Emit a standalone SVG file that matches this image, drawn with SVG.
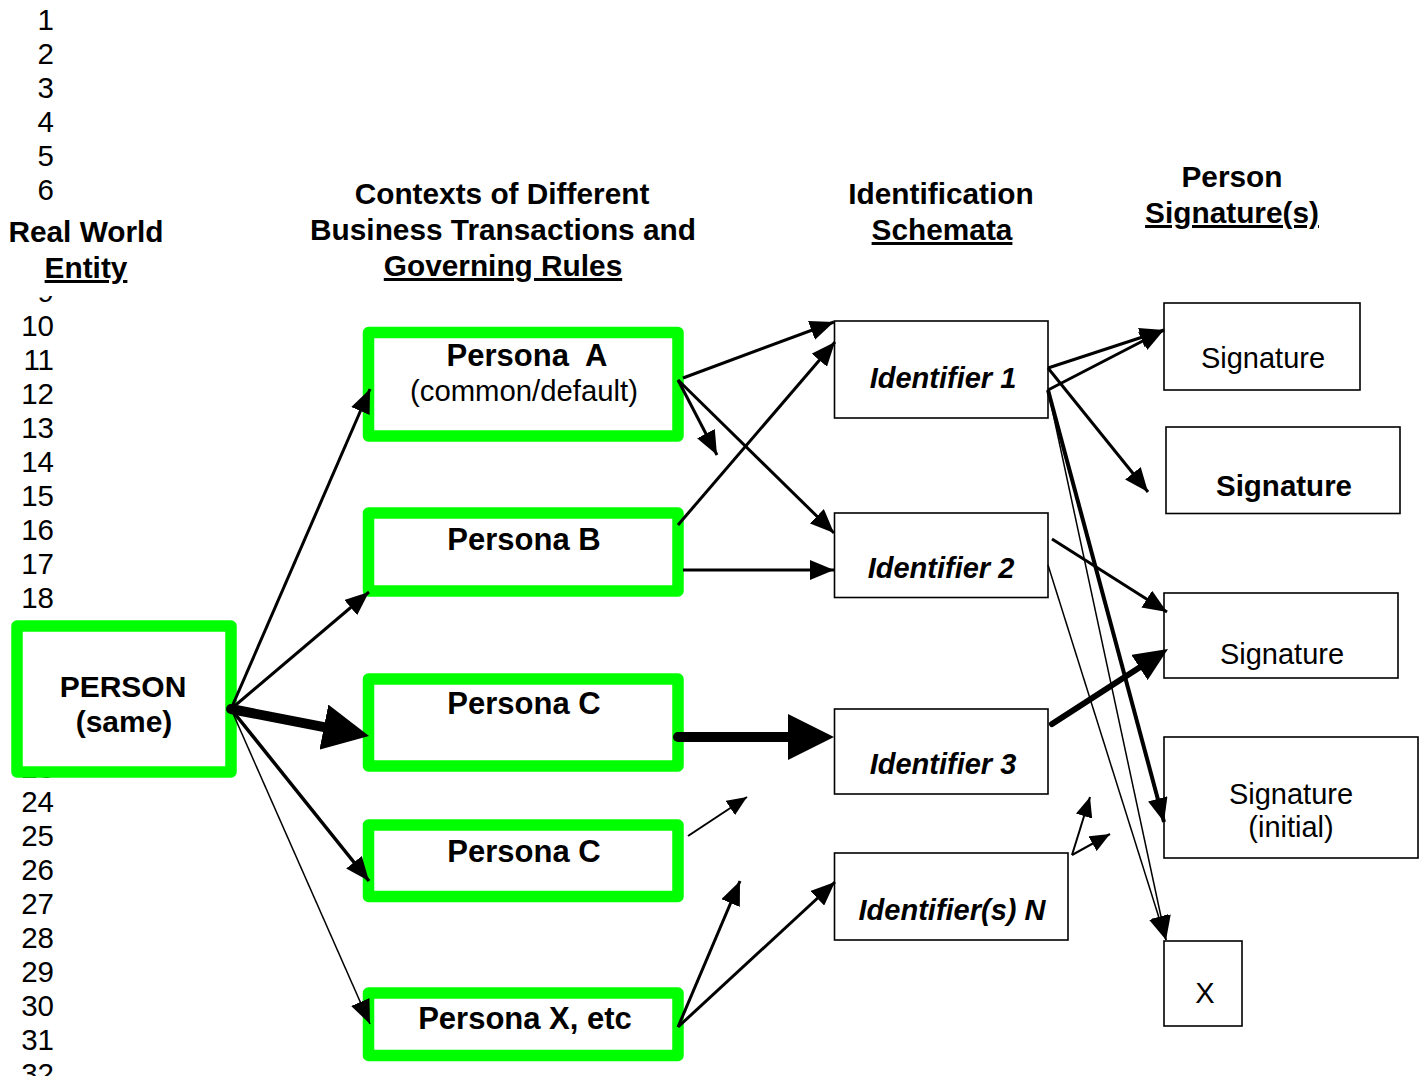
<svg xmlns="http://www.w3.org/2000/svg" width="1426" height="1076" viewBox="0 0 1426 1076">
  <style>
    text { font-family: "Liberation Sans", Arial, sans-serif; fill: #000; }
    .num { font-size: 29.5px; text-anchor: end; }
    .hdr { font-size: 29.8px; font-weight: bold; text-anchor: middle; }
    .u { text-decoration: underline; }
    .lbl { font-size: 29px; text-anchor: middle; }
    .pn { font-size: 31px; }
    .b { font-weight: bold; }
    .bi { font-weight: bold; font-style: italic; }
    .green { fill: #fff; stroke: #00ff00; stroke-width: 11.5; stroke-linejoin: round; }
    .box { fill: #fff; stroke: #000; stroke-width: 1.6; }
    .c { fill: none; stroke: #000; }
  </style>
  <defs>
    <marker id="ah" viewBox="0 0 24 20" markerUnits="userSpaceOnUse" markerWidth="24" markerHeight="20" refX="24" refY="10" orient="auto">
      <path d="M0,0 L24,10 L0,20 z" fill="#000"/>
    </marker>
    <marker id="ah-s" viewBox="0 0 20 17" markerUnits="userSpaceOnUse" markerWidth="20" markerHeight="17" refX="20" refY="8.5" orient="auto">
      <path d="M0,0 L20,8.5 L0,17 z" fill="#000"/>
    </marker>
    <marker id="ah-mid" viewBox="0 0 34 30" markerUnits="userSpaceOnUse" markerWidth="34" markerHeight="30" refX="18" refY="15" orient="auto">
      <path d="M0,0 L34,15 L0,30 z" fill="#000"/>
    </marker>
    <marker id="ah-big" viewBox="0 0 46 46" markerUnits="userSpaceOnUse" markerWidth="46" markerHeight="46" refX="16" refY="23" orient="auto">
      <path d="M0,0 L46,23 L0,46 z" fill="#000"/>
    </marker>
  </defs>
  <rect width="1426" height="1076" fill="#fff"/>

  <!-- line numbering down the left margin -->
  <g id="line-numbers">
    <text class="num" x="54" y="30">1</text>
    <text class="num" x="54" y="64">2</text>
    <text class="num" x="54" y="98">3</text>
    <text class="num" x="54" y="132">4</text>
    <text class="num" x="54" y="166">5</text>
    <text class="num" x="54" y="200">6</text>
    <text class="num" x="54" y="302">9</text>
    <text class="num" x="54" y="336">10</text>
    <text class="num" x="54" y="370">11</text>
    <text class="num" x="54" y="404">12</text>
    <text class="num" x="54" y="438">13</text>
    <text class="num" x="54" y="472">14</text>
    <text class="num" x="54" y="506">15</text>
    <text class="num" x="54" y="540">16</text>
    <text class="num" x="54" y="574">17</text>
    <text class="num" x="54" y="608">18</text>
    <text class="num" x="54" y="642">19</text>
    <text class="num" x="54" y="778">23</text>
    <text class="num" x="54" y="812">24</text>
    <text class="num" x="54" y="846">25</text>
    <text class="num" x="54" y="880">26</text>
    <text class="num" x="54" y="914">27</text>
    <text class="num" x="54" y="948">28</text>
    <text class="num" x="54" y="982">29</text>
    <text class="num" x="54" y="1016">30</text>
    <text class="num" x="54" y="1050">31</text>
    <text class="num" x="54" y="1084">32</text>
  </g>

  <!-- column headings -->
  <g id="headings">
    <rect x="0" y="206" width="172" height="90" fill="#fff"/>
    <text class="hdr" x="86" y="242">Real World</text>
    <text class="hdr u" x="86" y="278">Entity</text>
    <text class="hdr" x="502" y="204">Contexts of Different</text>
    <text class="hdr" x="503" y="240">Business Transactions and</text>
    <text class="hdr u" x="503" y="276">Governing Rules</text>
    <text class="hdr" x="941" y="204">Identification</text>
    <text class="hdr u" x="942" y="240">Schemata</text>
    <text class="hdr" x="1232" y="187">Person</text>
    <text class="hdr u" x="1232" y="223">Signature(s)</text>
  </g>

  <!-- real world entity -->
  <g id="person">
    <rect class="green" x="17" y="626" width="214" height="146"/>
    <text class="lbl b" x="123" y="697" style="font-size:30px">PERSON</text>
    <text class="lbl b" x="124" y="732" style="font-size:30px">(same)</text>
  </g>

  <!-- personas -->
  <g id="persona-a">
    <rect class="green" x="368.5" y="332.5" width="309.5" height="103.5"/>
    <text class="lbl pn b" x="527" y="366" style="white-space:pre">Persona  A</text>
    <text class="lbl" x="524" y="401" style="font-size:29.3px">(common/default)</text>
  </g>
  <g id="persona-b">
    <rect class="green" x="368.5" y="513" width="309.5" height="78"/>
    <text class="lbl pn b" x="524" y="550">Persona B</text>
  </g>
  <g id="persona-c">
    <rect class="green" x="368.5" y="679" width="309.5" height="87"/>
    <text class="lbl pn b" x="524" y="714">Persona C</text>
  </g>
  <g id="persona-c2">
    <rect class="green" x="368.5" y="825" width="309.5" height="71.5"/>
    <text class="lbl pn b" x="524" y="862">Persona C</text>
  </g>
  <g id="persona-x">
    <rect class="green" x="368.5" y="993" width="309.5" height="62.5"/>
    <text class="lbl pn b" x="525" y="1029">Persona X, etc</text>
  </g>

  <!-- identification schemata -->
  <g id="ident-1">
    <rect class="box" x="834.5" y="321" width="213.5" height="97"/>
    <text class="lbl bi" x="943" y="388">Identifier 1</text>
  </g>
  <g id="ident-2">
    <rect class="box" x="834.5" y="513" width="213.5" height="84.5"/>
    <text class="lbl bi" x="941" y="578">Identifier 2</text>
  </g>
  <g id="ident-3">
    <rect class="box" x="834.5" y="709" width="213.5" height="85"/>
    <text class="lbl bi" x="943" y="774">Identifier 3</text>
  </g>
  <g id="ident-n">
    <rect class="box" x="834.5" y="853" width="233.5" height="87"/>
    <text class="lbl bi" x="952" y="920">Identifier(s) N</text>
  </g>

  <!-- signatures -->
  <g id="sig-1">
    <rect class="box" x="1164" y="303" width="196" height="87"/>
    <text class="lbl" x="1263" y="368">Signature</text>
  </g>
  <g id="sig-2">
    <rect class="box" x="1166" y="427" width="234" height="86.5"/>
    <text class="lbl b" x="1284" y="496" style="font-size:29.5px">Signature</text>
  </g>
  <g id="sig-3">
    <rect class="box" x="1164" y="593" width="234" height="85"/>
    <text class="lbl" x="1282" y="664">Signature</text>
  </g>
  <g id="sig-4">
    <rect class="box" x="1164" y="737" width="254" height="121"/>
    <text class="lbl" x="1291" y="804">Signature</text>
    <text class="lbl" x="1291" y="837">(initial)</text>
  </g>
  <g id="sig-x">
    <rect class="box" x="1164" y="941" width="78" height="85"/>
    <text class="lbl" x="1205" y="1003">X</text>
  </g>

  <!-- connectors -->
  <g id="connectors">
    <!-- person to personas -->
    <circle cx="231" cy="709" r="5" fill="#000"/>
    <line class="c" x1="231" y1="709" x2="370" y2="389" stroke-width="3" marker-end="url(#ah)"/>
    <line class="c" x1="231" y1="709" x2="369" y2="592" stroke-width="3" marker-end="url(#ah)"/>
    <line class="c" x1="231" y1="709" x2="339.6" y2="730.2" stroke-width="10" marker-end="url(#ah-big)"/>
    <line class="c" x1="231" y1="709" x2="369" y2="881" stroke-width="3.5" marker-end="url(#ah)"/>
    <line class="c" x1="231" y1="709" x2="370" y2="1024" stroke-width="1.5" marker-end="url(#ah)"/>

    <!-- personas to identifiers -->
    <line class="c" x1="683" y1="378" x2="834" y2="322" stroke-width="3" marker-end="url(#ah)"/>
    <line class="c" x1="678" y1="380" x2="717" y2="455" stroke-width="3" marker-end="url(#ah)"/>
    <line class="c" x1="678" y1="380" x2="834" y2="533" stroke-width="3" marker-end="url(#ah)"/>
    <line class="c" x1="678" y1="525" x2="835" y2="342" stroke-width="3" marker-end="url(#ah)"/>
    <line class="c" x1="683" y1="570" x2="834" y2="570" stroke-width="3" marker-end="url(#ah)"/>
    <line class="c" x1="678" y1="737" x2="804" y2="737" stroke-width="10" stroke-linecap="round" marker-end="url(#ah-big)"/>
    <line class="c" x1="688" y1="836" x2="747" y2="797" stroke-width="2" marker-end="url(#ah-s)"/>
    <line class="c" x1="678" y1="1027" x2="740" y2="881" stroke-width="3" marker-end="url(#ah)"/>
    <line class="c" x1="678" y1="1027" x2="835" y2="882" stroke-width="3" marker-end="url(#ah)"/>

    <!-- identifiers to signatures -->
    <line class="c" x1="1048" y1="368" x2="1164" y2="330" stroke-width="3" marker-end="url(#ah)"/>
    <line class="c" x1="1048" y1="390" x2="1164" y2="330" stroke-width="3" marker-end="url(#ah)"/>
    <line class="c" x1="1048" y1="368" x2="1148" y2="492" stroke-width="3" marker-end="url(#ah)"/>
    <line class="c" x1="1048" y1="390" x2="1164" y2="822" stroke-width="4" marker-end="url(#ah)"/>
    <line class="c" x1="1048" y1="390" x2="1166" y2="940" stroke-width="1.5" marker-end="url(#ah)"/>
    <line class="c" x1="1048" y1="565" x2="1166" y2="940" stroke-width="1.5" marker-end="url(#ah)"/>
    <line class="c" x1="1052" y1="539" x2="1167" y2="612" stroke-width="3" marker-end="url(#ah)"/>
    <line class="c" x1="1052" y1="724" x2="1154.6" y2="657.7" stroke-width="6" stroke-linecap="round" marker-end="url(#ah-mid)"/>
    <line class="c" x1="1072" y1="855" x2="1090" y2="797" stroke-width="2" marker-end="url(#ah-s)"/>
    <line class="c" x1="1072" y1="855" x2="1110" y2="834" stroke-width="2" marker-end="url(#ah-s)"/>
  </g>
</svg>
